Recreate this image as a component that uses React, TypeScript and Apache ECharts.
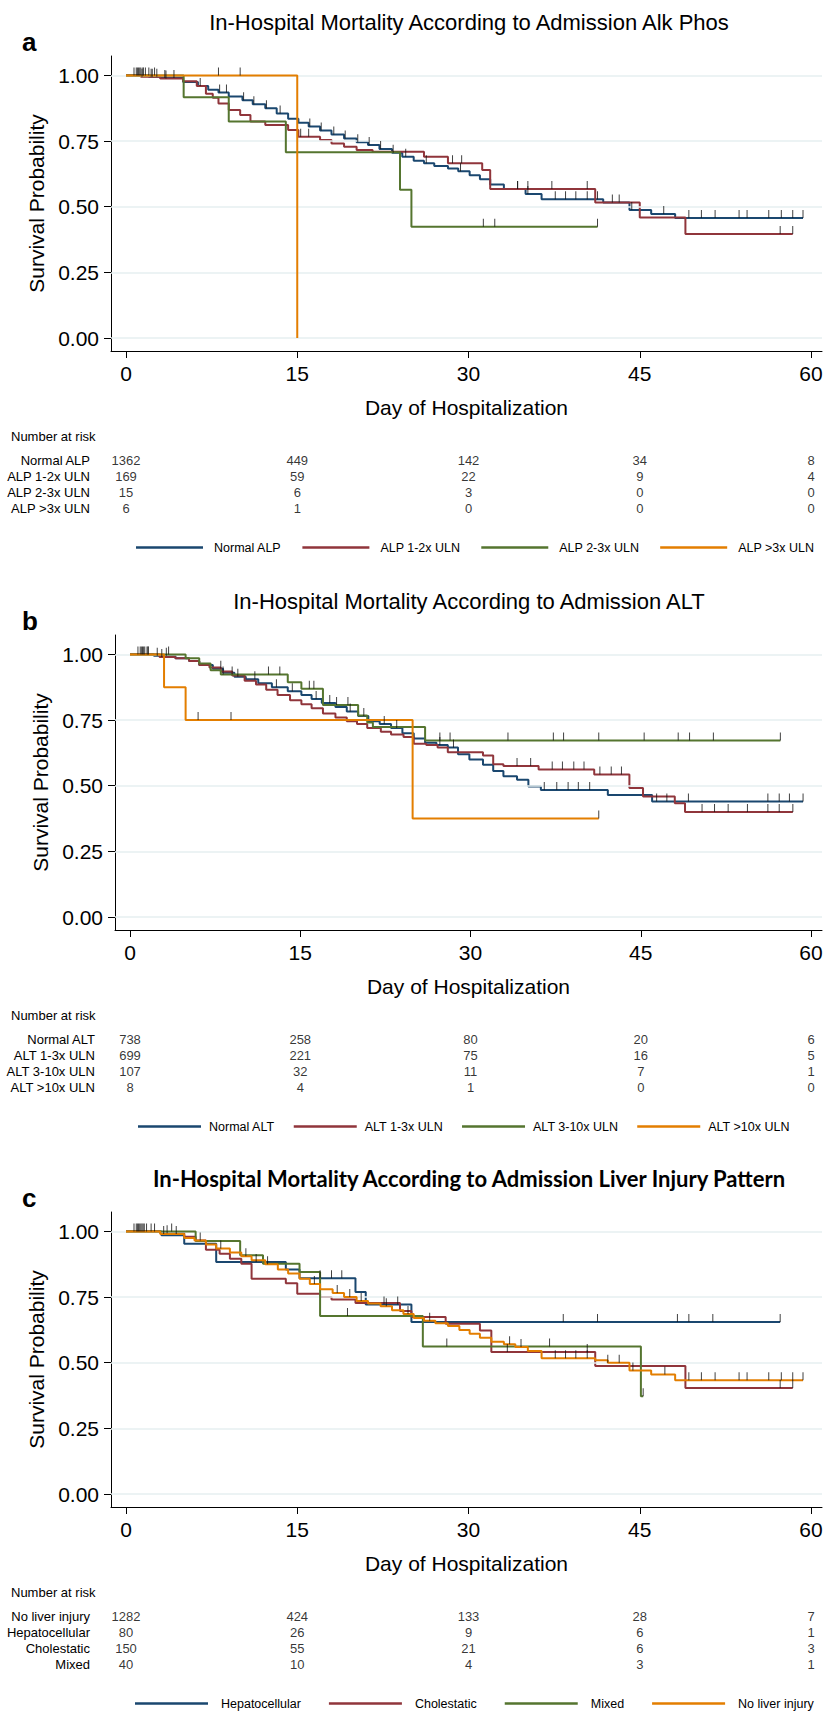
import React, { useEffect, useRef } from 'react';
import * as echarts from 'echarts';

const FONT = "'Liberation Sans', Arial, Helvetica, sans-serif";
const TITLE_C_FONT = "Lato, 'Open Sans', sans-serif";
const COLORS = ['#1a476f', '#90353b', '#55752f', '#e37e00'];
const GRID_COLOR = '#e6eff1';

const xTicks = [0, 15, 30, 45, 60];
const yTicks = [0, 0.25, 0.5, 0.75, 1];
const riskDays = [0, 15, 30, 45, 60];

// ---------- Panel a : Alk Phos ----------
const titleA = 'In-Hospital Mortality According to Admission Alk Phos';
const namesA = ['Normal ALP', 'ALP 1-2x ULN', 'ALP 2-3x ULN', 'ALP >3x ULN'];
const kmNormalALP = [[0,1],[2,0.995],[3,0.99],[5,0.975],[6.3,0.96],[7.2,0.945],[8.1,0.935],[9,0.92],[10.2,0.905],[11.1,0.89],[12.2,0.875],[13.2,0.855],[14.2,0.835],[15.1,0.82],[16,0.805],[17,0.79],[18,0.775],[19.1,0.76],[20.2,0.745],[21.2,0.735],[22.2,0.72],[23.3,0.705],[24.2,0.69],[25.2,0.675],[26.1,0.665],[27,0.655],[28.2,0.645],[29.1,0.635],[30.1,0.62],[31,0.605],[31.9,0.585],[33.1,0.567],[35,0.548],[36.4,0.528],[41.8,0.516],[44.1,0.487],[46,0.472],[48.1,0.457],[59.3,0.457]];
const kmALP12 = [[0,1],[1.3,0.995],[3,0.988],[5,0.978],[6.2,0.96],[7,0.93],[7.6,0.915],[8.1,0.893],[9,0.868],[10,0.849],[10.9,0.824],[12.2,0.811],[14.2,0.792],[15.1,0.766],[17,0.754],[18,0.741],[19.1,0.728],[20.2,0.716],[21.6,0.709],[26.1,0.69],[28.2,0.665],[31.2,0.64],[31.9,0.567],[41.1,0.516],[45,0.459],[49,0.396],[58.4,0.396]];
const kmALP23 = [[0,1],[5.05,0.917],[9,0.824],[14,0.707],[24,0.565],[25,0.424],[41.3,0.424]];
const kmALP3 = [[0,1],[15,0]];
const cenNormalALP = [0.7,0.9,1.1,1.3,1.5,1.7,2.3,2.7,3.4,4.2,6.5,8.2,8.8,10.3,11.2,12.3,13.5,16.1,17.1,18.2,19.2,20.3,21.3,22.3,23.4,24.5,26.3,29.3,34.3,35.2,37.6,38.5,39.4,40.4,41.3,42.6,43.2,44.3,47.1,49.3,50.4,51.6,53.7,54.4,56.3,57.4,58.4,59.3];
const cenALP12 = [1,1.4,2.2,3.5,15.3,16,28.6,29.4,34.3,35.2,37.3,40.4,57.3,58.4];
const cenALP23 = [1.2,2.5,31.3,32.3,41.3];
const cenALP3 = [1.5,2,8.1,10];
const riskLabelsA = ['Normal ALP', 'ALP 1-2x ULN', 'ALP 2-3x ULN', 'ALP >3x ULN'];
const riskNormalALP = [1362, 449, 142, 34, 8];
const riskALP12 = [169, 59, 22, 9, 4];
const riskALP23 = [15, 6, 3, 0, 0];
const riskALP3 = [6, 1, 0, 0, 0];

// ---------- Panel b : ALT ----------
const titleB = 'In-Hospital Mortality According to Admission ALT';
const namesB = ['Normal ALT', 'ALT 1-3x ULN', 'ALT 3-10x ULN', 'ALT >10x ULN'];
const kmNormalALT = [[0,1],[2.1,0.995],[4,0.985],[5.2,0.975],[6.1,0.96],[7.3,0.945],[8.2,0.93],[9.2,0.915],[10.2,0.905],[11.3,0.89],[12.5,0.875],[13.9,0.86],[15.1,0.845],[16,0.83],[16.9,0.815],[18.1,0.8],[19.1,0.783],[20.1,0.765],[21,0.745],[22,0.735],[23,0.72],[24,0.7],[25,0.68],[26,0.664],[27,0.655],[28,0.645],[28.9,0.62],[29.9,0.6],[31.1,0.58],[32,0.556],[32.9,0.536],[34.1,0.523],[35.1,0.497],[36.2,0.484],[42.1,0.465],[46,0.44],[59.3,0.44]];
const kmALT13 = [[0,1],[2.6,0.99],[4,0.985],[5.2,0.975],[6.1,0.96],[7,0.95],[8,0.935],[9,0.92],[10.1,0.9],[11.1,0.885],[12,0.865],[13,0.845],[14.1,0.825],[15.1,0.81],[16,0.795],[17,0.775],[18.1,0.76],[19.1,0.745],[20,0.735],[20.9,0.72],[22.1,0.705],[23,0.695],[24.1,0.685],[25,0.66],[26.1,0.655],[27.1,0.645],[28,0.627],[31.1,0.615],[32,0.582],[32.9,0.575],[36,0.562],[40.9,0.543],[44,0.491],[45.2,0.459],[48,0.433],[48.9,0.40],[58.4,0.40]];
const kmALT310 = [[0,1],[4.9,0.985],[6.1,0.965],[7.1,0.94],[8,0.923],[13.9,0.894],[15.1,0.869],[17,0.807],[20.1,0.767],[20.9,0.741],[21.4,0.724],[26,0.672],[57.3,0.672]];
const kmALT10 = [[0,1],[3,0.875],[4.9,0.75],[24.9,0.375],[41.3,0.375]];
const cenNormalALT = [0.7,0.9,1.1,1.3,1.6,2.4,3.2,8,9.5,11,12.9,14.3,16.4,17.6,19.4,20.6,22.4,23.5,27.3,28.5,36.5,37.6,38.6,39.5,40.5,46.4,47.3,49.2,56.2,57.2,58.1,59.3];
const cenALT13 = [1,1.5,2.8,34.1,35.3,37.2,38.1,39.1,40,41.4,42.4,43.3,50.4,51.5,52.7,54.4,56.2,57.2,58.4];
const cenALT310 = [1.2,3.4,8.2,9,12.2,13.2,15.8,16.2,18.2,19.2,27.3,28.2,33.3,37.3,38.2,41.3,45.3,48.3,49.3,51.4,57.3];
const cenALT10 = [1.6,6,8.9,41.3];
const riskLabelsB = ['Normal ALT', 'ALT 1-3x ULN', 'ALT 3-10x ULN', 'ALT >10x ULN'];
const riskNormalALT = [738, 258, 80, 20, 6];
const riskALT13 = [699, 221, 75, 16, 5];
const riskALT310 = [107, 32, 11, 7, 1];
const riskALT10 = [8, 4, 1, 0, 0];

// ---------- Panel c : Liver injury pattern ----------
const titleC = 'In-Hospital Mortality According to Admission Liver Injury Pattern';
const namesC = ['Hepatocellular', 'Cholestatic', 'Mixed', 'No liver injury'];
const kmHepato = [[0,1],[3.1,0.985],[5.1,0.953],[7.9,0.883],[14,0.855],[15.2,0.822],[20.1,0.769],[21,0.722],[25,0.655],[57.3,0.655]];
const kmChole = [[0,1],[3,0.993],[5.1,0.98],[6.1,0.965],[7,0.93],[8.2,0.915],[9.1,0.896],[10.1,0.877],[11,0.82],[14,0.803],[15,0.763],[17,0.75],[18,0.741],[20.1,0.727],[24,0.697],[25,0.674],[28,0.648],[31,0.623],[32,0.541],[41.1,0.487],[49,0.404],[58.4,0.404]];
const kmMixed = [[0,1],[6.1,0.963],[10,0.909],[12,0.877],[15.2,0.845],[17,0.678],[26,0.562],[45.1,0.372],[45.3,0.372]];
const kmNoInjury = [[0,1],[3,0.99],[5.1,0.975],[6,0.965],[7,0.95],[7.9,0.935],[9.1,0.92],[10.1,0.905],[11,0.89],[12.2,0.875],[13.3,0.855],[14.2,0.84],[15.2,0.82],[16.1,0.8],[17,0.78],[18.1,0.765],[19.1,0.75],[20.2,0.735],[21.2,0.725],[22.3,0.715],[23.3,0.7],[24.3,0.685],[25.2,0.67],[26.1,0.66],[27.1,0.65],[28.2,0.64],[29.2,0.625],[30.1,0.61],[31,0.595],[32,0.58],[33.1,0.57],[34.1,0.56],[35.2,0.545],[36.4,0.517],[41.1,0.509],[42.2,0.5],[44.1,0.47],[46,0.455],[48.1,0.433],[59.3,0.433]];
const cenHepato = [1,1.6,11.4,17,18,18.9,22.6,23.8,38.3,41.3,48.3,49.3,51.4,57.3];
const cenChole = [1.2,2.2,3.6,33.4,40.4,57.3,58.4];
const cenMixed = [1.4,4,19.4,28.1,37.1,45.3];
const cenNoInjury = [0.7,0.9,1.1,1.3,1.5,1.8,2.5,3.3,4.4,6.5,8.3,10.5,12.4,16.5,18.5,19.6,20.6,22.8,24.7,26.6,33.6,34.6,37.6,38.5,39.4,40.4,42.2,43.2,44.4,47.2,49.3,50.4,51.6,53.7,54.4,56.3,57.4,58.4,59.3];
const riskLabelsC = ['No liver injury', 'Hepatocellular', 'Cholestatic', 'Mixed'];
const riskNoInjury = [1282, 424, 133, 28, 7];
const riskHepato = [80, 26, 9, 6, 1];
const riskChole = [150, 55, 21, 6, 3];
const riskMixed = [40, 10, 4, 3, 1];

// ---------- layout (pixels) ----------
const panels = [
  { letter: 'a', title: titleA, titleFont: FONT, titleSize: 22, titleWeight: 'normal', names: namesA,
    curves: [kmNormalALP, kmALP12, kmALP23, kmALP3], censors: [cenNormalALP, cenALP12, cenALP23, cenALP3],
    riskLabels: riskLabelsA, risk: [riskNormalALP, riskALP12, riskALP23, riskALP3],
    dy: 0, left: 111, x0: 126, labelRight: 90, legend: { left: 131, w: 67, gap: 21, pad: 6 } },
  { letter: 'b', title: titleB, titleFont: FONT, titleSize: 22, titleWeight: 'normal', names: namesB,
    curves: [kmNormalALT, kmALT13, kmALT310, kmALT10], censors: [cenNormalALT, cenALT13, cenALT310, cenALT10],
    riskLabels: riskLabelsB, risk: [riskNormalALT, riskALT13, riskALT310, riskALT10],
    dy: 579, left: 115, x0: 130, labelRight: 95, legend: { left: 133, w: 63, gap: 19, pad: 3 } },
  { letter: 'c', title: titleC, titleFont: TITLE_C_FONT, titleSize: 22, titleWeight: 'bold', names: namesC,
    curves: [kmHepato, kmChole, kmMixed, kmNoInjury], censors: [cenHepato, cenChole, cenMixed, cenNoInjury],
    riskLabels: riskLabelsC, risk: [riskNoInjury, riskHepato, riskChole, riskMixed],
    dy: 1156, left: 111, x0: 126, labelRight: 90, legend: { left: 130, w: 73, gap: 28, pad: 8 } },
];

function stepAt(curve: number[][], t: number) {
  let s = curve[0][1];
  for (const p of curve) if (p[0] <= t) s = p[1];
  return s;
}

function buildOption() {
  const grid: any[] = [], xAxis: any[] = [], yAxis: any[] = [], series: any[] = [], legend: any[] = [], graphic: any[] = [];
  const RIGHT = 822, X60 = 811;
  panels.forEach((p, i) => {
    const top = 56 + p.dy, bottom = 351 + p.dy, y1 = 75.4 + p.dy, y0 = 338 + p.dy;
    const kx = (X60 - p.x0) / 60;
    const ky = y0 - y1;
    const gi = i * 2, ri = i * 2 + 1;
    grid.push({ left: p.left, top, width: RIGHT - p.left, height: bottom - top });
    xAxis.push({
      gridIndex: gi, type: 'value', min: -(p.x0 - p.left) / kx, max: 60 + (RIGHT - X60) / kx,
      axisLine: { show: true, onZero: false, lineStyle: { color: '#000', width: 1 } },
      axisTick: { show: true, customValues: xTicks, length: 7, lineStyle: { color: '#000' } },
      axisLabel: { customValues: xTicks, fontSize: 21, color: '#000', margin: 12, fontFamily: FONT },
      splitLine: { show: false },
      name: 'Day of Hospitalization', nameLocation: 'middle', nameGap: 46,
      nameTextStyle: { fontSize: 21, color: '#000', fontFamily: FONT },
    });
    yAxis.push({
      gridIndex: gi, type: 'value', min: -(bottom - y0) / ky, max: 1 + (y1 - top) / ky,
      axisLine: { show: true, onZero: false, lineStyle: { color: '#000', width: 1 } },
      axisTick: { show: true, customValues: yTicks, length: 7, lineStyle: { color: '#000' } },
      axisLabel: { customValues: yTicks, fontSize: 21, color: '#000', margin: 12, fontFamily: FONT,
        formatter: (v: number) => v.toFixed(2) },
      splitLine: { show: false },
      name: 'Survival Probability', nameLocation: 'middle', nameGap: 64, nameRotate: 90,
      nameTextStyle: { fontSize: 21, color: '#000', fontFamily: FONT },
    });
    // gridlines
    series.push({
      type: 'line', xAxisIndex: gi, yAxisIndex: gi, data: [], z: 1, silent: true,
      markLine: { silent: true, symbol: ['none', 'none'], label: { show: false },
        lineStyle: { color: GRID_COLOR, width: 1.5, type: 'solid' },
        data: yTicks.map((v) => ({ yAxis: v })) },
    });
    p.curves.forEach((c, k) => {
      series.push({
        type: 'line', name: p.names[k], xAxisIndex: gi, yAxisIndex: gi, data: c, step: 'end',
        symbol: 'none', z: 3 + k, silent: true,
        lineStyle: { color: COLORS[k], width: 2 }, itemStyle: { color: COLORS[k] },
      });
    });
    p.censors.forEach((cs, k) => {
      series.push({
        type: 'scatter', xAxisIndex: gi, yAxisIndex: gi, z: 8, silent: true,
        data: cs.map((t) => [t, stepAt(p.curves[k], t)]),
        symbol: 'rect', symbolSize: [1, 8], symbolOffset: [0, -4],
        itemStyle: { color: '#111' },
      });
    });
    // risk table
    const nar = 436 + p.dy;
    const rowTop = nar + 16;
    grid.push({ left: p.left, top: rowTop, width: RIGHT - p.left, height: 64 });
    xAxis.push({ gridIndex: ri, type: 'value', min: -(p.x0 - p.left) / kx, max: 60 + (RIGHT - X60) / kx, show: false });
    yAxis.push({
      gridIndex: ri, type: 'category', data: p.riskLabels, inverse: true,
      axisLine: { show: false }, axisTick: { show: false }, splitLine: { show: false },
      axisLabel: { interval: 0, fontSize: 13, color: '#000', margin: p.left - p.labelRight, fontFamily: FONT },
    });
    const riskData: any[] = [];
    p.risk.forEach((row, r) => row.forEach((v, j) => riskData.push([riskDays[j], r, v])));
    series.push({
      type: 'scatter', xAxisIndex: ri, yAxisIndex: ri, data: riskData, symbolSize: 0, silent: true,
      label: { show: true, position: 'inside', formatter: (q: any) => String(q.value[2]),
        fontSize: 13, color: '#000', fontFamily: FONT },
    });
    legend.push({
      data: p.names, left: p.legend.left, top: nar + 108 - 8, width: 760, itemWidth: p.legend.w, itemHeight: 2.5,
      itemGap: p.legend.gap, selectedMode: false, icon: 'rect',
      textStyle: { fontSize: 12.5, color: '#000', fontFamily: FONT, padding: [0, 0, 0, p.legend.pad] },
    });
    graphic.push({
      type: 'text', x: 469, y: 22 + p.dy,
      style: { text: p.title, fill: '#000', fontSize: p.titleSize, fontWeight: p.titleWeight, fontFamily: p.titleFont,
        align: 'center', verticalAlign: 'middle', textAlign: 'center', textVerticalAlign: 'middle' },
    });
    graphic.push({
      type: 'text', x: 22, y: 42 + p.dy,
      style: { text: p.letter, fill: '#000', fontSize: 26, fontWeight: 'bold', fontFamily: FONT,
        align: 'left', verticalAlign: 'middle', textAlign: 'left', textVerticalAlign: 'middle' },
    });
    graphic.push({
      type: 'text', x: 11, y: nar,
      style: { text: 'Number at risk', fill: '#000', fontSize: 13, fontFamily: FONT,
        align: 'left', verticalAlign: 'middle', textAlign: 'left', textVerticalAlign: 'middle' },
    });
  });
  return { animation: false, backgroundColor: '#fff', textStyle: { fontFamily: FONT }, grid, xAxis, yAxis, series, legend, graphic };
}

export default function App() {
  const ref = useRef<HTMLDivElement>(null);
  useEffect(() => {
    if (!ref.current) return;
    const chart = echarts.init(ref.current, undefined, { renderer: 'svg' });
    chart.setOption(buildOption());
    return () => chart.dispose();
  }, []);
  return <div ref={ref} style={{ position: 'absolute', left: 0, top: 0, width: 830, height: 1712 }} />;
}
